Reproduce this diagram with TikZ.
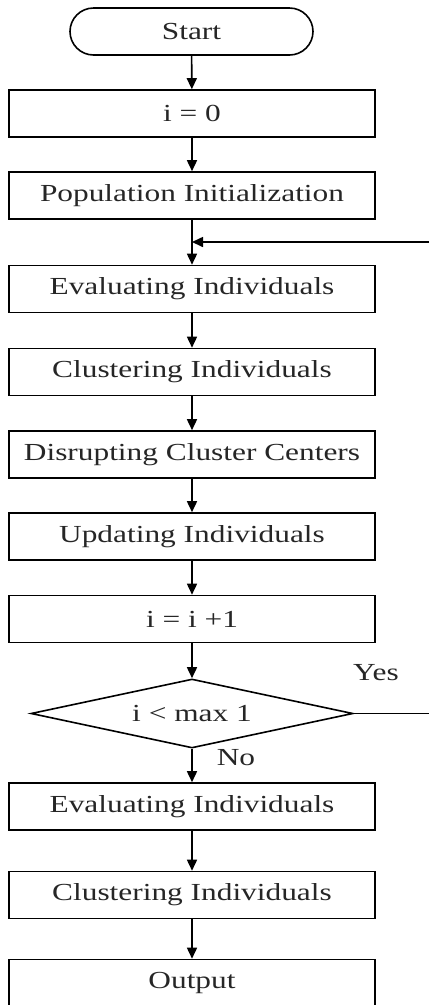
\documentclass[tikz,border=0pt]{standalone}
\usepackage{fontspec}
\setmainfont{Liberation Serif}[FakeStretch=1.28]
\usetikzlibrary{shapes.geometric,shapes.misc,arrows.meta}
\begin{document}
\begin{tikzpicture}[x=1pt,y=-1pt,
  every node/.style={font=\fontsize{24.5}{28}\selectfont, text=black!85},
  procbox/.style={draw, line width=1.6pt, rectangle, minimum width=366pt, minimum height=47pt, inner sep=0pt},
  termbox/.style={draw, line width=1.6pt, rounded rectangle, minimum width=243pt, minimum height=47pt, inner sep=0pt},
  decbox/.style={draw, line width=1.6pt, diamond, aspect=4.67, minimum width=322pt, minimum height=69pt, inner sep=0pt},
  flow/.style={line width=1.6pt, -{Triangle[length=11pt,width=10pt]}},
  plain/.style={line width=1.6pt},
  lbl/.style={inner sep=0pt}]
\useasboundingbox (0,0) rectangle (429,1005);
\node[termbox] (start) at (191.5,31.5) {Start};
\node[procbox] (i0) at (192,113.5) {i = 0};
\node[procbox] (pop) at (192,195.5) {Population Initialization};
\node[procbox] (eval) at (192,289) {Evaluating Individuals};
\node[procbox] (clus) at (192,372) {Clustering Individuals};
\node[procbox] (disr) at (192,454.5) {Disrupting Cluster Centers};
\node[procbox] (upd) at (192,536.5) {Updating Individuals};
\node[procbox] (inc) at (192,619) {i = i +1};
\node[decbox] (dec) at (192,713.5) {i < max 1};
\node[procbox] (eval2) at (192,806.5) {Evaluating Individuals};
\node[procbox] (clus2) at (192,895) {Clustering Individuals};
\node[procbox] (out) at (192,983) {Output};
\node[lbl] (yes) at (376,673) {Yes};
\node[lbl] (no) at (236,758) {No};
\coordinate (join) at (192,242);
\coordinate (rtop) at (429,242);
\coordinate (rbot) at (429,713.5);
\draw[flow] (start) -- (i0);
\draw[flow] (i0) -- (pop);
\draw[flow] (pop) -- (eval);
\draw[flow] (rtop) -- (join);
\draw[flow] (eval) -- (clus);
\draw[flow] (clus) -- (disr);
\draw[flow] (disr) -- (upd);
\draw[flow] (upd) -- (inc);
\draw[flow] (inc) -- (dec);
\draw[plain] (dec.east) -- (rbot);
\draw[flow] (dec) -- (eval2);
\draw[flow] (eval2) -- (clus2);
\draw[flow] (clus2) -- (out);
\end{tikzpicture}
\end{document}
